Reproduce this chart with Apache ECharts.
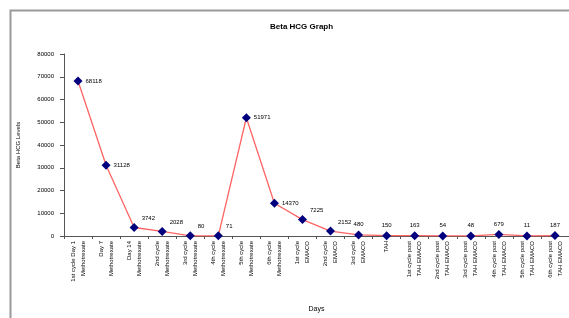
<!DOCTYPE html>
<html>
<head>
<meta charset="utf-8">
<script src="https://cdn.jsdelivr.net/npm/echarts@6/dist/echarts.min.js"></script>
<style>
html,body{margin:0;padding:0;background:#fff;}
#c{width:569px;height:318px;}
</style>
</head>
<body>
<div id="c"></div>
<script>
var categories = [
  "1st cycle Day 1\nMethotrexate",
  "Day 7\nMethotrexate",
  "Day 14\nMethotrexate",
  "2nd cycle\nMethotrexate",
  "3rd cycle\nMethotrexate",
  "4th cycle\nMethotrexate",
  "5th cycle\nMethotrexate",
  "6th cycle\nMethotrexate",
  "1st cycle\nEMACO",
  "2nd cycle\nEMACO",
  "3rd cycle\nEMACO",
  "TAH",
  "1st cycle post\nTAH EMACO",
  "2nd cycle post\nTAH EMACO",
  "3rd cycle post\nTAH EMACO",
  "4th cycle post\nTAH EMACO",
  "5th cycle post\nTAH EMACO",
  "6th cycle post\nTAH EMACO"
];
var values = [68118, 31128, 3742, 2028, 80, 71, 51971, 14370, 7225, 2152, 480, 150, 163, 54, 48, 679, 11, 187];
var yTicks = [0, 10000, 20000, 30000, 40000, 50000, 60000, 70000, 80000];

var FONT = "'Liberation Sans', Arial, sans-serif";

var seriesData = values.map(function (v, i) {
  var lbl;
  if (i >= 10) {
    lbl = { position: 'top', distance: 3 };
  } else if (v < 10000) {
    lbl = { position: 'right', distance: 3, offset: [0, -9] };
  } else {
    lbl = { position: 'right', distance: 3 };
  }
  return { value: v, label: lbl };
});

var chart = echarts.init(document.getElementById('c'), null, { renderer: 'canvas' });
chart.setOption({
  animation: false,
  backgroundColor: '#ffffff',
  textStyle: { fontFamily: FONT },
  graphic: [
    {
      type: 'rect',
      shape: { x: 10.5, y: 10.5, width: 620, height: 400 },
      style: { fill: 'none', stroke: '#9a9a9a', lineWidth: 2 },
      z: 0
    },
    {
      type: 'text',
      left: 270, top: 23,
      style: {
        text: 'Beta HCG Graph',
        fontFamily: FONT, fontSize: 8, fontWeight: 'bold', fill: '#000',
        textAlign: 'center'
      }
    }
  ],
  grid: { left: 64, top: 54, width: 510, height: 183, containLabel: false },
  xAxis: {
    type: 'category',
    data: categories,
    boundaryGap: true,
    name: 'Days',
    nameLocation: 'middle',
    nameGap: 70,
    nameTextStyle: { fontSize: 7, color: '#000', fontFamily: FONT },
    axisLine: { lineStyle: { color: '#555', width: 1 } },
    axisTick: { show: true, alignWithLabel: false, length: 3, lineStyle: { color: '#555' } },
    axisLabel: {
      rotate: 90, interval: 0, fontSize: 6, color: '#000', lineHeight: 10,
      margin: 5, fontFamily: FONT
    },
    splitLine: { show: false }
  },
  yAxis: {
    type: 'value',
    min: 0, max: 80000, interval: 10000,
    name: 'Beta HCG Levels',
    nameLocation: 'middle',
    nameGap: 43,
    nameRotate: 90,
    nameTextStyle: { fontSize: 6, color: '#000', fontFamily: FONT },
    axisLine: { show: true, lineStyle: { color: '#555', width: 1 } },
    axisTick: { show: true, length: 4, lineStyle: { color: '#555' } },
    axisLabel: {
      fontSize: 6, color: '#000', margin: 10, fontFamily: FONT,
      formatter: function (v) { return yTicks.indexOf(v) >= 0 ? String(v) : ''; }
    },
    splitLine: { show: false }
  },
  series: [{
    type: 'line',
    data: seriesData,
    symbol: 'diamond',
    symbolSize: 9,
    itemStyle: { color: '#00007f' },
    lineStyle: { color: '#ff6464', width: 1.3 },
    label: { show: true, fontSize: 6, color: '#000', fontFamily: FONT },
    z: 3
  }]
});
</script>
</body>
</html>
